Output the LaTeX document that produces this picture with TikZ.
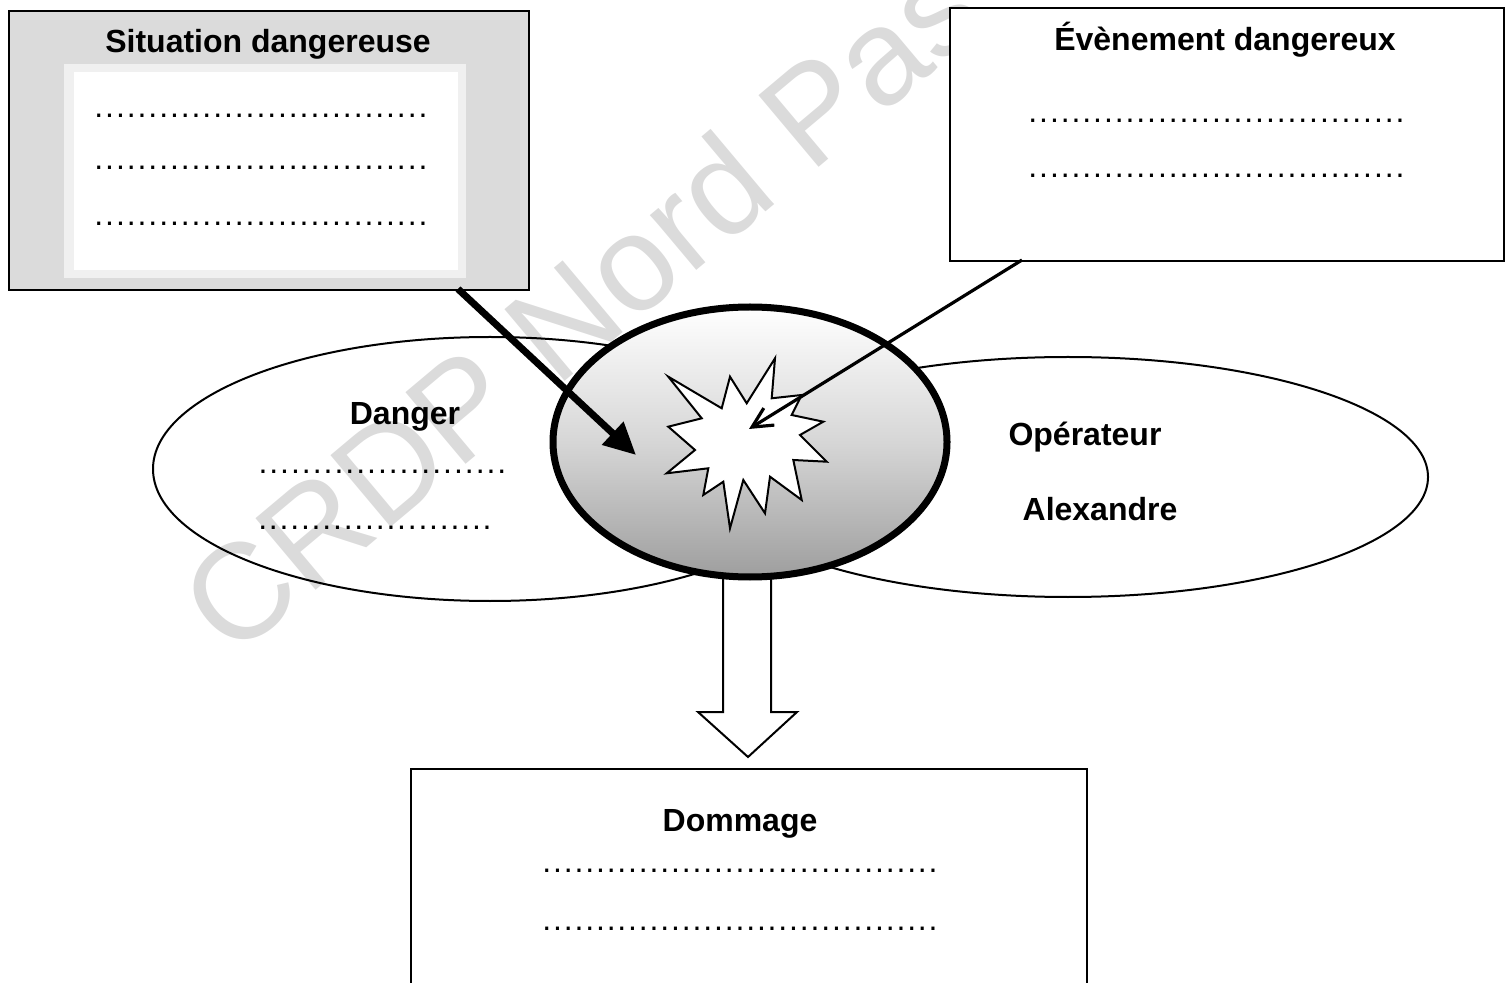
\documentclass[tikz,border=0pt]{standalone}
\usepackage{fontspec}
\setmainfont{Liberation Sans}
\usetikzlibrary{shapes.geometric,arrows.meta,calc}
\newcommand{\dotrow}[1]{\hbox to #1{\xleaders\hbox to 5.3pt{\hss.\hss}\hfil}}
\begin{document}
\begin{tikzpicture}[x=0.5pt,y=-0.5pt,
  lbl/.style={font=\bfseries\fontsize{16}{19}\selectfont, inner sep=0},
  dotsrow/.style={font=\fontsize{16}{19}\selectfont, inner sep=0, anchor=base west},
  framebox/.style={draw, line width=0.8pt, rectangle, inner sep=0, anchor=north west},
  ring/.style={draw, line width=1pt, ellipse, inner sep=0},
  wmark/.style={text=black!14, font=\fontsize{68}{68}\selectfont, inner sep=0, rotate=40},
]
\useasboundingbox (0,0) rectangle (1509,983);
\clip (0,0) rectangle (1509,983);

% watermark
\node[wmark] (wm) at (580,305) {CRDP Nord Pas};

% large ellipses
\node[ring, minimum width=337pt, minimum height=132pt] (danger) at (490,469) {};
\node[ring, minimum width=360pt, minimum height=120pt] (oper) at (1068,477) {};

% block arrow
\draw[line width=1pt, fill=white] (723,560) -- (723,712) -- (698,712) -- (748,757) -- (797,712) -- (771,712) -- (771,560);

% central ellipse
\node[ellipse, draw, line width=3.5pt, inner sep=0, minimum width=197pt, minimum height=135pt,
      top color=white, bottom color=black!38, middle color=black!16] (centre) at (750,442) {};

% explosion star
\draw[line width=1pt, fill=white]
  (668.3,376.7) -- (721.7,408.3) -- (730,376.7) -- (746.7,403.3) -- (775,358.3) -- (771.7,398.3)
  -- (801.7,395) -- (791.7,415) -- (823.3,421.7) -- (800,435) -- (826.7,461.7) -- (793.3,460)
  -- (801.7,500) -- (770,476.7) -- (765,513.3) -- (743.3,480) -- (730,528.3) -- (723.3,481.7)
  -- (703.3,495) -- (708.3,468.3) -- (666.7,473.3) -- (695,450) -- (668.3,426.7) -- (701.7,418.3) -- cycle;

% boxes
\node[framebox, fill=black!14, minimum width=260pt, minimum height=139.5pt] (box1) at (8,10) {};
\fill[black!6] (64,64) rectangle (466,278);
\fill[white] (74,72) rectangle (458,270);
\node[framebox, fill=white, minimum width=277pt, minimum height=126.5pt] (box2) at (949,7) {};
\node[framebox, fill=white, minimum width=338pt, minimum height=140pt] (box3) at (410,768) {};

% connectors
\coordinate (a1s) at (458,289);
\coordinate (a1e) at (636,455);
\draw[line width=3.5pt, -{Triangle[length=16pt,width=15pt]}] (a1s) -- (a1e);
\coordinate (a2s) at (1022,260);
\coordinate (a2e) at (749,429);
\draw[line width=1.6pt, -{Straight Barb[length=10pt,width=10pt]}] (a2s) -- (a2e);

% texts
\node[lbl] (t1) at (268,44) {Situation dangereuse};
\node[dotsrow] (d11) at (93,118) {\dotrow{167.5pt}};
\node[dotsrow] (d12) at (93,170) {\dotrow{167.5pt}};
\node[dotsrow] (d13) at (93,226) {\dotrow{167.5pt}};

\node[lbl] (t2) at (1225,40) {Évènement dangereux};
\node[dotsrow] (d21) at (1027,123) {\dotrow{189pt}};
\node[dotsrow] (d22) at (1027,178) {\dotrow{189pt}};

\node[lbl] (t3) at (405,417) {Danger};
\node[dotsrow] (d31) at (257,474) {\dotrow{125pt}};
\node[dotsrow] (d32) at (257,530) {\dotrow{117.5pt}};

\node[lbl] (t4) at (1085,437) {Opérateur};
\node[lbl] (t5) at (1100,509) {Alexandre};

\node[lbl] (t6) at (740,824) {Dommage};
\node[dotsrow] (d61) at (541,872) {\dotrow{198.5pt}};
\node[dotsrow] (d62) at (541,930) {\dotrow{198.5pt}};
\end{tikzpicture}
\end{document}
